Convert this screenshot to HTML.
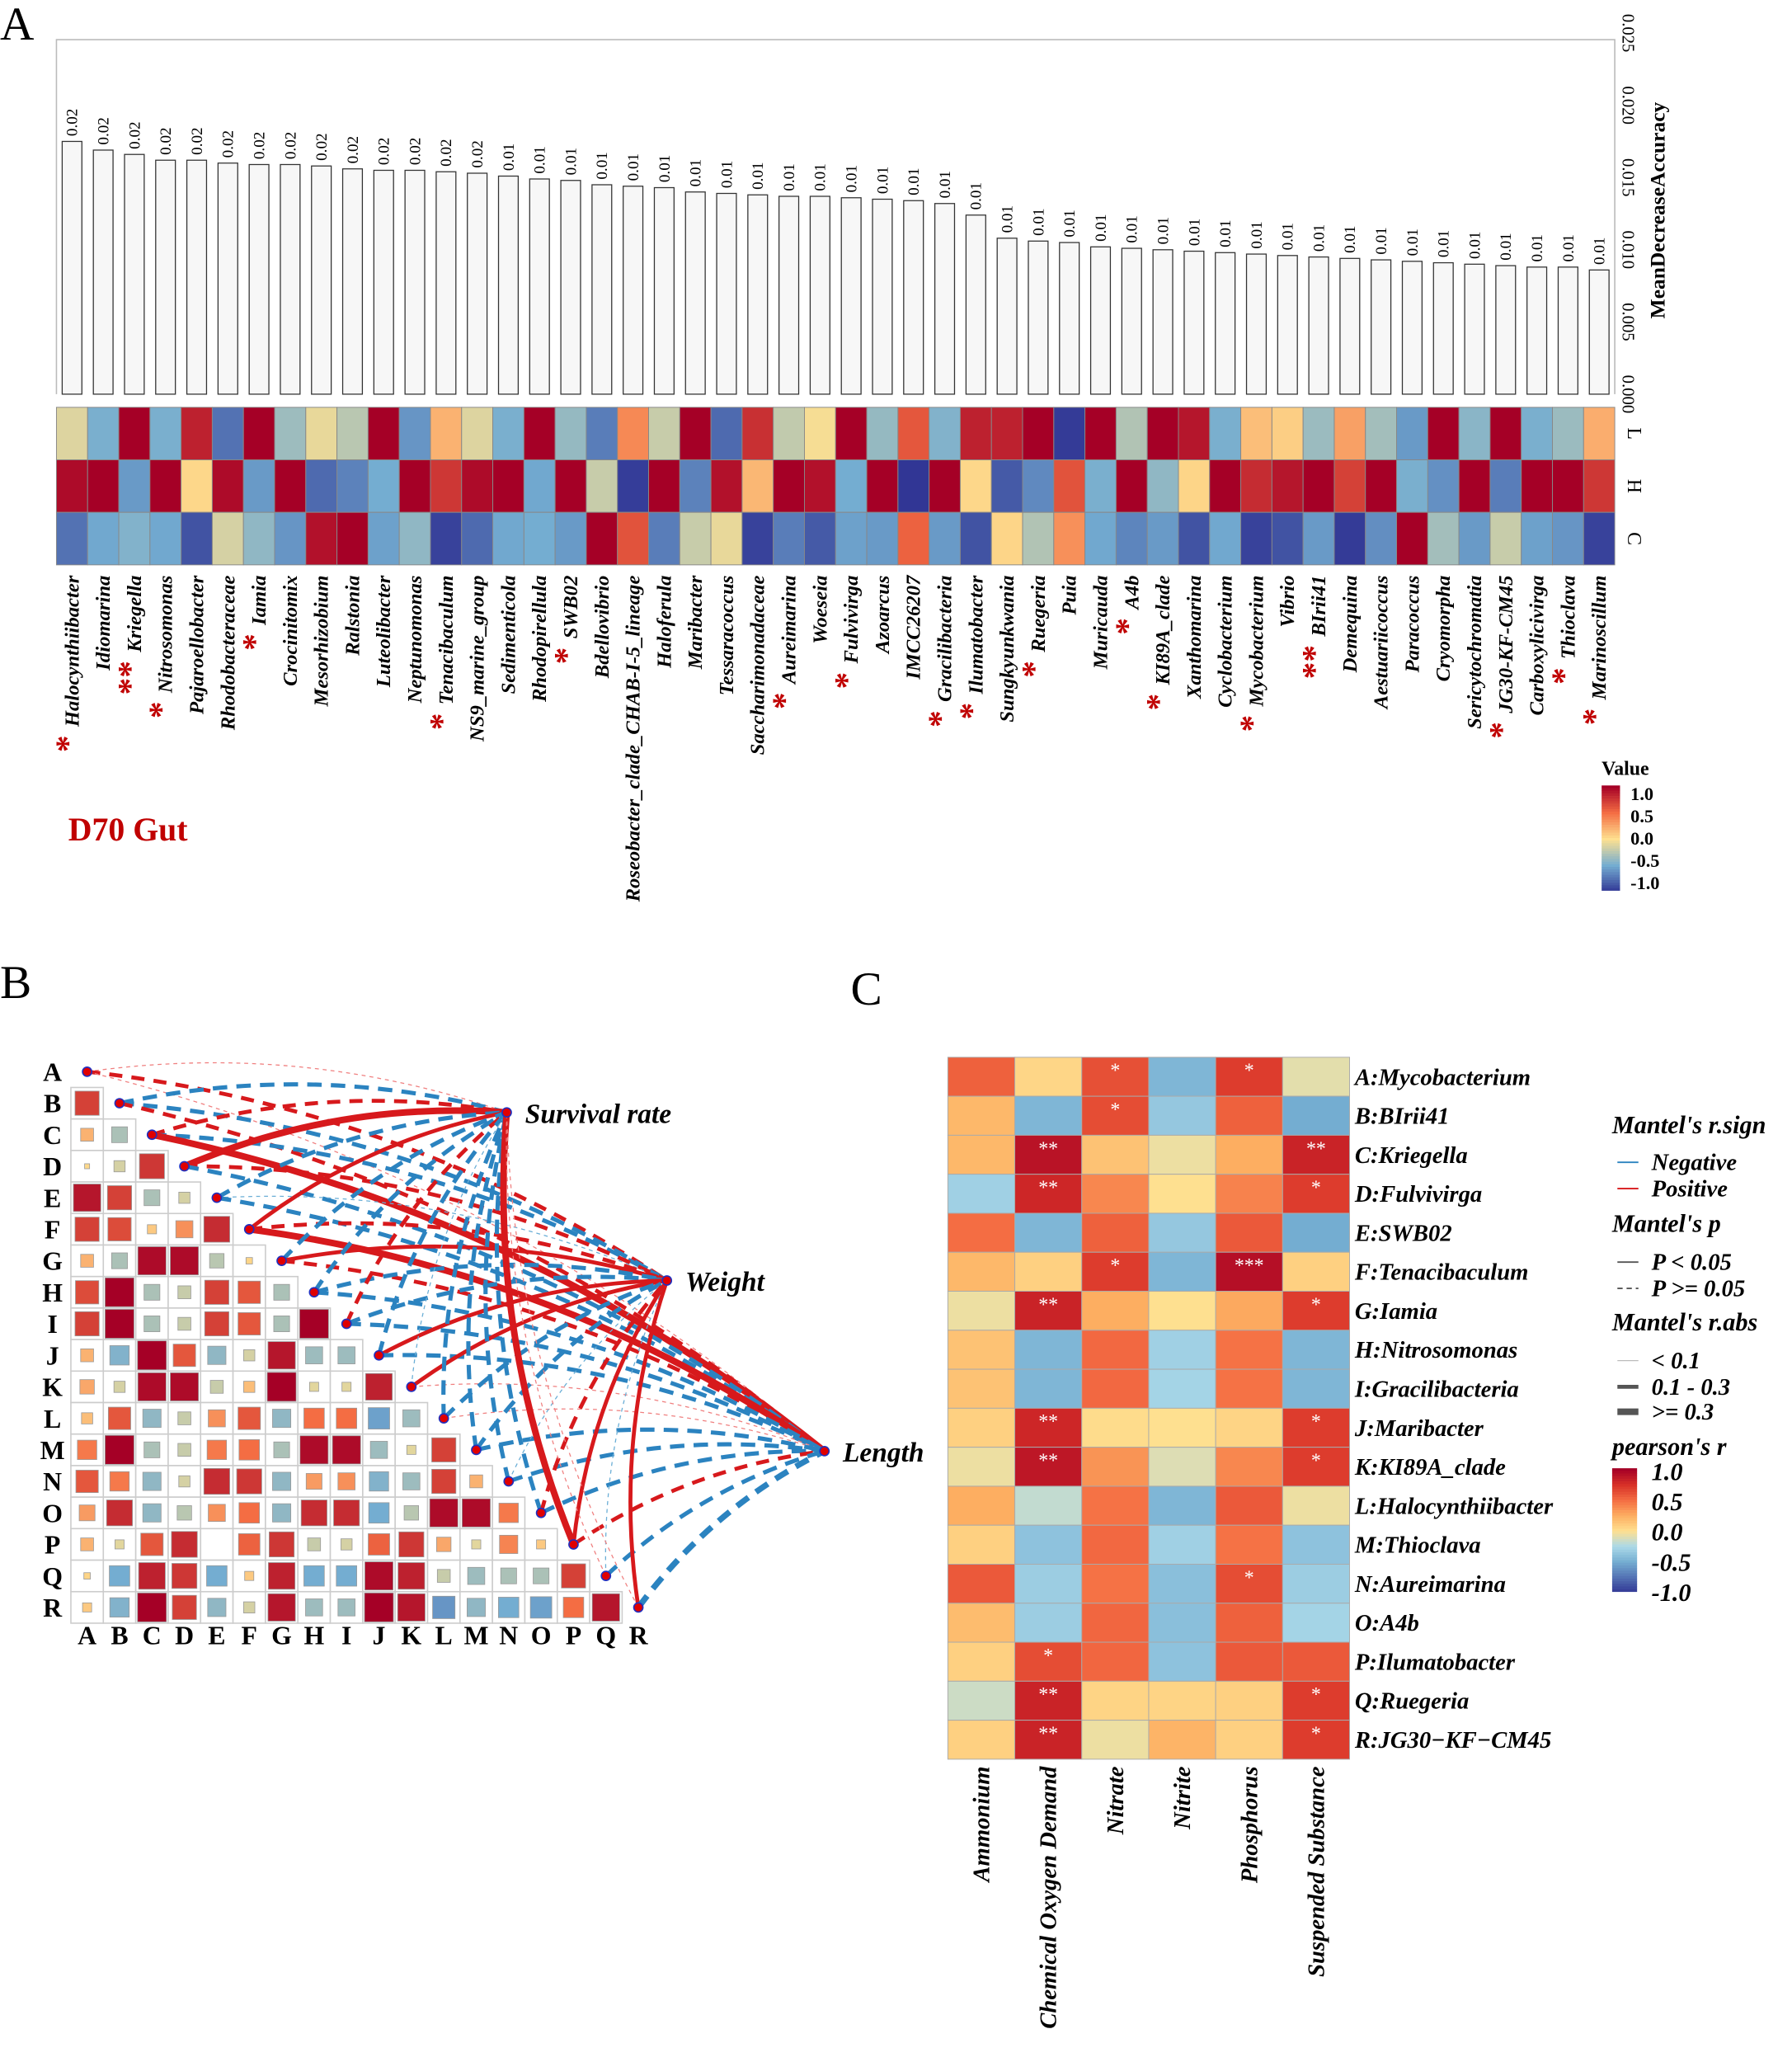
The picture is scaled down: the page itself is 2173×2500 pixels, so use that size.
<!DOCTYPE html>
<html><head><meta charset="utf-8"><style>
html,body{margin:0;padding:0;background:#fff;}
svg{display:block;font-family:"Liberation Serif",serif;}
</style></head><body>
<svg id="fig" width="2173" height="2500" viewBox="0 0 1365 1570" xmlns="http://www.w3.org/2000/svg">
<rect width="1365" height="1570" fill="#fff"/>
<text x="0" y="30" font-size="36">A</text>
<text x="0" y="760" font-size="36">B</text>
<text x="648" y="765" font-size="36">C</text>
<g id="pa"></g>
<g id="pb"></g>
<g id="pc"></g>
</svg>
<script>
const genera=["Halocynthiibacter","Idiomarina","Kriegella","Nitrosomonas","Pajaroellobacter","Rhodobacteraceae","Iamia","Crocinitomix","Mesorhizobium","Ralstonia","Luteolibacter","Neptunomonas","Tenacibaculum","NS9_marine_group","Sedimenticola","Rhodopirellula","SWB02","Bdellovibrio","Roseobacter_clade_CHAB-I-5_lineage","Haloferula","Maribacter","Tessaracoccus","Saccharimonadaceae","Aureimarina","Woeseia","Fulvivirga","Azoarcus","IMCC26207","Gracilibacteria","Ilumatobacter","Sungkyunkwania","Ruegeria","Puia","Muricauda","A4b","KI89A_clade","Xanthomarina","Cyclobacterium","Mycobacterium","Vibrio","BIrii41","Demequina","Aestuariicoccus","Paracoccus","Cryomorpha","Sericytochromatia","JG30-KF-CM45","Carboxylicivirga","Thioclava","Marinoscillum"];
const accuracy=[0.0175,0.0169,0.0166,0.0162,0.0162,0.0160,0.0159,0.0159,0.0158,0.0156,0.0155,0.0155,0.0154,0.0153,0.0151,0.0149,0.0148,0.0145,0.0144,0.0143,0.0140,0.0139,0.0138,0.0137,0.0137,0.0136,0.0135,0.0134,0.0132,0.0124,0.0108,0.0106,0.0105,0.0102,0.0101,0.0100,0.0099,0.0098,0.0097,0.0096,0.0095,0.0094,0.0093,0.0092,0.0091,0.0090,0.0089,0.0088,0.0088,0.0086];
const accLabels=["0.02","0.02","0.02","0.02","0.02","0.02","0.02","0.02","0.02","0.02","0.02","0.02","0.02","0.02","0.01","0.01","0.01","0.01","0.01","0.01","0.01","0.01","0.01","0.01","0.01","0.01","0.01","0.01","0.01","0.01","0.01","0.01","0.01","0.01","0.01","0.01","0.01","0.01","0.01","0.01","0.01","0.01","0.01","0.01","0.01","0.01","0.01","0.01","0.01","0.01"];
const stars=[1,0,2,1,0,0,1,0,0,0,0,0,1,0,0,0,1,0,0,0,0,0,0,1,0,1,0,0,1,1,0,1,0,0,1,1,0,0,1,0,2,0,0,0,0,0,1,0,1,1];
const yTicks=["0.000","0.005","0.010","0.015","0.020","0.025"];
const rowL=[-0.12,-0.48,1,-0.48,0.85,-0.75,1,-0.35,-0.08,-0.25,1,-0.6,0.2,-0.12,-0.48,1,-0.38,-0.7,0.38,-0.2,1,-0.78,0.78,-0.22,-0.03,1,-0.38,0.6,-0.45,0.85,0.85,1,-0.98,1,-0.28,1,0.9,-0.48,0.15,0.08,-0.36,0.28,-0.33,-0.58,1,-0.42,1,-0.48,-0.36,0.22];
const rowH=[0.95,1,-0.58,1,0.04,0.95,-0.58,1,-0.78,-0.68,-0.5,1,0.75,0.95,1,-0.52,1,-0.2,-0.97,1,-0.68,0.92,0.18,1,0.92,-0.5,1,-1,1,0.04,-0.85,-0.65,0.62,-0.48,1,-0.4,0.05,1,0.8,0.9,1,0.7,1,-0.48,-0.62,1,-0.7,1,1,0.75];
const rowC=[-0.75,-0.52,-0.45,-0.52,-0.88,-0.15,-0.4,-0.6,0.92,1,-0.55,-0.4,-0.95,-0.78,-0.52,-0.5,-0.58,1,0.62,-0.7,-0.2,-0.08,-0.95,-0.7,-0.85,-0.55,-0.58,0.55,-0.58,-0.88,0.05,-0.28,0.35,-0.52,-0.67,-0.58,-0.88,-0.52,-0.95,-0.88,-0.58,-0.98,-0.63,1,-0.33,-0.58,-0.2,-0.55,-0.6,-0.95];
const rowNames=["L","H","C"];
const legendTicks=["1.0","0.5","0.0","-0.5","-1.0"];

const bLetters="ABCDEFGHIJKLMNOPQR".split("");
const corr=[[],[0.7],[0.2,-0.3],[0.03,-0.15,0.75],[0.9,0.7,-0.3,-0.15],[0.7,0.65,0.1,0.35,0.8],[0.2,-0.3,0.95,0.95,-0.25,0.05],[0.65,1,-0.3,-0.2,0.7,0.6,-0.3],[0.7,1,-0.3,-0.2,0.7,0.6,-0.3,1],[0.2,-0.45,1,0.6,-0.4,-0.15,0.9,-0.35,-0.35],[0.25,-0.15,0.95,0.95,-0.2,0.15,1,-0.1,-0.1,0.85],[0.15,0.6,-0.4,-0.2,0.35,0.6,-0.4,0.5,0.5,-0.55,-0.35],[0.45,1,-0.3,-0.2,0.45,0.5,-0.3,0.95,0.95,-0.35,-0.1,0.7],[0.6,0.45,-0.4,-0.15,0.8,0.75,-0.4,0.3,0.35,-0.45,-0.35,0.7,0.2],[0.3,0.8,-0.4,-0.25,0.35,0.5,-0.4,0.8,0.8,-0.5,-0.25,0.95,0.95,0.45],[0.2,-0.1,0.6,0.8,0.0,0.55,0.75,-0.2,-0.15,0.55,0.75,0.25,-0.1,0.4,0.1],[0.05,-0.5,0.85,0.75,-0.5,0.1,0.85,-0.5,-0.5,0.95,0.85,-0.2,-0.35,-0.3,-0.3,0.7],[0.1,-0.45,1,0.7,-0.4,-0.15,0.9,-0.35,-0.35,1,0.9,-0.6,-0.4,-0.5,-0.55,0.5,0.9]];
const envNames=["Survival rate","Weight","Length"];
const mantel=[["t","r","t"],["b","b","r"],["r","b","S"],["S","r","b"],["b","u","b"],["s","r","S"],["b","s","r"],["b","b","b"],["r","b","b"],["b","s","b"],["u","s","t"],["b","b","t"],["b","b","b"],["b","u","b"],["b","r","b"],["S","s","r"],["t","u","b"],["t","s","B"]];

const cRows=["A:Mycobacterium","B:BIrii41","C:Kriegella","D:Fulvivirga","E:SWB02","F:Tenacibaculum","G:Iamia","H:Nitrosomonas","I:Gracilibacteria","J:Maribacter","K:KI89A_clade","L:Halocynthiibacter","M:Thioclava","N:Aureimarina","O:A4b","P:Ilumatobacter","Q:Ruegeria","R:JG30\u2212KF\u2212CM45"];
const cCols=["Ammonium","Chemical Oxygen Demand","Nitrate","Nitrite","Phosphorus","Suspended Substance"];
const cVals=[[0.55,0.05,0.62,-0.45,0.7,-0.08],[0.2,-0.45,0.63,-0.35,0.55,-0.5],[0.2,0.9,0.15,-0.05,0.25,0.82],[-0.3,0.8,0.4,0,0.42,0.7],[0.5,-0.45,0.55,-0.35,0.58,-0.5],[0.2,0.08,0.7,-0.45,0.92,0.08],[-0.05,0.82,0.25,0,0.27,0.7],[0.15,-0.45,0.52,-0.3,0.48,-0.45],[0.15,-0.45,0.52,-0.28,0.48,-0.45],[0.08,0.8,0.02,0,0.06,0.7],[-0.05,0.88,0.35,-0.1,0.4,0.7],[0.25,-0.18,0.48,-0.45,0.58,-0.05],[0.08,-0.38,0.52,-0.3,0.48,-0.38],[0.58,-0.32,0.48,-0.4,0.63,-0.32],[0.18,-0.32,0.53,-0.4,0.55,-0.28],[0.08,0.63,0.53,-0.38,0.58,0.58],[-0.15,0.82,0.06,0.06,0.08,0.7],[0.08,0.82,-0.05,0.22,0.08,0.7]];
const cSig=[["","","*","","*",""],["","","*","","",""],["","**","","","","**"],["","**","","","","*"],["","","","","",""],["","","*","","***",""],["","**","","","","*"],["","","","","",""],["","","","","",""],["","**","","","","*"],["","**","","","","*"],["","","","","",""],["","","","","",""],["","","","","*",""],["","","","","",""],["","*","","","",""],["","**","","","","*"],["","**","","","","*"]];

const NS="http://www.w3.org/2000/svg";
function mk(tag,attrs,parent){const e=document.createElementNS(NS,tag);for(const k in attrs)e.setAttribute(k,attrs[k]);parent.appendChild(e);return e;}
function hex(h){return [parseInt(h.slice(1,3),16),parseInt(h.slice(3,5),16),parseInt(h.slice(5,7),16)];}
function cmap(stops,v){v=Math.max(-1,Math.min(1,v));for(let i=0;i<stops.length-1;i++){const a=stops[i],b=stops[i+1];if(v<=b[0]){const t=(v-a[0])/(b[0]-a[0]);const ca=hex(a[1]),cb=hex(b[1]);return "rgb("+ca.map((c,j)=>Math.round(c+(cb[j]-c)*t)).join(",")+")";}}return stops[stops.length-1][1];}
const stopsA=[[-1,"#313695"],[-0.5,"#74add1"],[0,"#fee090"],[0.5,"#f46d43"],[1,"#a50026"]];
const stopsC=[[-1,"#313695"],[-0.5,"#74add1"],[-0.25,"#abd9e9"],[0,"#fee090"],[0.25,"#fdae61"],[0.5,"#f46d43"],[0.75,"#d73027"],[1,"#a50026"]];

// ---------- Panel A ----------
const pa=document.getElementById("pa");
const ax0=43, ax1=1230, colW=(ax1-ax0)/genera.length;
const y0=300, yScale=11000;
function xA(i){return ax0+colW*(i+0.5);}
function yA(v){return y0-v*yScale;}
const frame=mk("path",{d:`M${ax0},${y0} L${ax0},30 L${ax1},30 L${ax1},${y0}`,fill:"none",stroke:"#bbb","stroke-width":1},pa);


yTicks.forEach((t,i)=>{const v=parseFloat(t);const y=yA(v);
 const tl=mk("text",{x:0,y:0,transform:`translate(1236,${y}) rotate(90)`,"font-size":13,"text-anchor":"middle"},pa);tl.textContent=t;
 
 });
const yt=mk("text",{x:0,y:0,transform:`translate(1268,160) rotate(-90)`,"font-size":16,"font-weight":"bold","text-anchor":"middle"},pa);yt.textContent="MeanDecreaseAccuracy";


genera.forEach((g,i)=>{
 const cx=xA(i),top=yA(accuracy[i]);
 const b=mk("rect",{x:cx-7.5,y:top,width:15,height:y0-top,fill:"#f7f7f7",stroke:"#333","stroke-width":0.8},pa);
 
 
 const l=mk("text",{x:0,y:0,transform:`translate(${cx+4},${top-4}) rotate(-90)`,"font-size":12},pa);l.textContent=accLabels[i];
 
 
 [rowL,rowH,rowC].forEach((row,r)=>{
  const c=mk("rect",{x:ax0+colW*i,y:310+40*r,width:colW,height:40,fill:cmap(stopsA,row[i]),stroke:"#888","stroke-width":0.6},pa);
  
  
 });
 const t=mk("text",{x:0,y:0,transform:`translate(${cx+5},438) rotate(-90)`,"font-size":15.5,"font-style":"italic","font-weight":"bold","text-anchor":"end"},pa);
 if(stars[i]){const s=mk("tspan",{fill:"#c00000","font-size":26,"font-style":"normal"},t);s.textContent="*".repeat(stars[i])+" ";}
 const n=mk("tspan",{},t);n.textContent=g;
 
 
});
rowNames.forEach((n,r)=>{const t=mk("text",{x:0,y:0,transform:`translate(1240,${330+40*r}) rotate(90)`,"font-size":15,"text-anchor":"middle"},pa);t.textContent=n;
 
 });
const gut=mk("text",{x:52,y:640,"font-size":25,"font-weight":"bold",fill:"#c00000"},pa);gut.textContent="D70 Gut";


const vt=mk("text",{x:1220,y:590,"font-size":15,"font-weight":"bold"},pa);vt.textContent="Value";


for(let k=0;k<40;k++){const v=1-k/20;const r=mk("rect",{x:1220,y:598+k*2,width:14,height:2.2,fill:cmap(stopsA,v)},pa);
 
 }
legendTicks.forEach((t,i)=>{const e=mk("text",{x:1242,y:609+i*17,"font-size":14,"font-weight":"bold"},pa);e.textContent=t;
 
 });

// ---------- Panel B ----------
const pb=document.getElementById("pb");
const bx0=54, bcw=24.7, by0=804, bch=24;
function bx(j){return bx0+bcw*(j+0.5);}
function by(i){return by0+bch*(i+0.5);}
const envPos=[[386,847],[508,975],[628,1105]];
bLetters.forEach((L,i)=>{
 const t=mk("text",{x:40,y:by(i)+7,"font-size":20,"font-weight":"bold","text-anchor":"middle"},pb);t.textContent=L;
 
 
 const t2=mk("text",{x:bx(i),y:1252,"font-size":20,"font-weight":"bold","text-anchor":"middle"},pb);t2.textContent=L;
 
 
 corr[i].forEach((v,j)=>{
  const cell=mk("rect",{x:bx0+bcw*j,y:by0+bch*i,width:bcw,height:bch,fill:"#fff",stroke:"#ccc","stroke-width":1},pb);
  
  
  const s=Math.sqrt(Math.abs(v))*22;
  const sq=mk("rect",{x:bx(j)-s/2,y:by(i)-s/2,width:s,height:s,fill:cmap(stopsA,v),stroke:"#999","stroke-width":0.5},pb);
  
  
 });
});
const styles={S:{c:"#d7191c",w:5,d:""},s:{c:"#d7191c",w:3,d:""},r:{c:"#d7191c",w:3,d:"10,7"},t:{c:"#f08080",w:0.8,d:"3,3"},b:{c:"#2b83c0",w:3.2,d:"11,7"},B:{c:"#2b83c0",w:4.5,d:"11,7"},u:{c:"#6aaed6",w:0.8,d:"3,3"}};
mantel.forEach((row,i)=>{
 const sx=bx(i),sy=by(i);
 row.forEach((code,k)=>{
  const [tx,ty]=envPos[k];const st=styles[code];
  const dx=tx-sx,dy=ty-sy,len=Math.hypot(dx,dy);
  const cxp=(sx+tx)/2+dy*0.12,cyp=(sy+ty)/2-dx*0.12;
  const p=mk("path",{d:`M${sx},${sy} Q${cxp},${cyp} ${tx},${ty}`,fill:"none",stroke:st.c,"stroke-width":st.w,"stroke-dasharray":st.d},pb);
  
  
 });
});
bLetters.forEach((L,i)=>{const d=mk("circle",{cx:bx(i),cy:by(i),r:3.5,fill:"#e00000",stroke:"#2030c0","stroke-width":1},pb);
 
 });
envPos.forEach((p,k)=>{const d=mk("circle",{cx:p[0],cy:p[1],r:3.5,fill:"#e00000",stroke:"#2030c0","stroke-width":1},pb);
 
 
 const t=mk("text",{x:p[0]+14,y:p[1]+8,"font-size":21,"font-weight":"bold","font-style":"italic"},pb);t.textContent=envNames[k];
 
 });

// ---------- Panel C ----------
const pc=document.getElementById("pc");
const cx0=722,cw=51,cy0=805,ch=29.7;
cVals.forEach((row,i)=>{
 row.forEach((v,j)=>{
  const r=mk("rect",{x:cx0+cw*j,y:cy0+ch*i,width:cw,height:ch,fill:cmap(stopsC,v),stroke:"#aaa","stroke-width":0.6},pc);
  
  
  if(cSig[i][j]){const s=mk("text",{x:cx0+cw*(j+0.5),y:cy0+ch*i+15,"font-size":15,fill:"#fff","text-anchor":"middle"},pc);s.textContent=cSig[i][j];
   
   }
 });
 const t=mk("text",{x:1032,y:cy0+ch*i+21,"font-size":18,"font-weight":"bold","font-style":"italic"},pc);t.textContent=cRows[i];
 
 
});
cCols.forEach((c,j)=>{const t=mk("text",{x:0,y:0,transform:`translate(${cx0+cw*(j+0.5)+6},1345) rotate(-90)`,"font-size":18,"font-weight":"bold","font-style":"italic","text-anchor":"end"},pc);t.textContent=c;
 
 });
const leg=[["Mantel's r.sign",1228,863,19],["Negative",1258,891,18],["Positive",1258,911,18],["Mantel's p",1228,938,19],["P < 0.05",1258,967,18],["P >= 0.05",1258,987,18],["Mantel's r.abs",1228,1013,19],["< 0.1",1258,1042,18],["0.1 - 0.3",1258,1062,18],[">= 0.3",1258,1081,18],["pearson's r",1228,1108,19]];
leg.forEach(l=>{const t=mk("text",{x:l[1],y:l[2],"font-size":l[3],"font-weight":"bold","font-style":"italic"},pc);t.textContent=l[0];
 
 });
const legLines=[[885,"#2b83c0",1.2,""],[905,"#d7191c",1.2,""],[961,"#555",1.2,""],[981,"#555",1.2,"4,3"],[1036,"#bbb",0.8,""],[1056,"#555",3,""],[1075,"#555",5,""]];
legLines.forEach(l=>{const e=mk("line",{x1:1232,x2:1248,y1:l[0],y2:l[0],stroke:l[1],"stroke-width":l[2],"stroke-dasharray":l[3]},pc);
 
 });
for(let k=0;k<47;k++){const v=1-k/23.5;const r=mk("rect",{x:1228,y:1118+k*2,width:19,height:2.2,fill:cmap(stopsC,v)},pc);
 
 }
legendTicks.forEach((t,i)=>{const e=mk("text",{x:1258,y:1127+i*23,"font-size":19,"font-weight":"bold","font-style":"italic"},pc);e.textContent=t;
 
 });
</script>
</body></html>
